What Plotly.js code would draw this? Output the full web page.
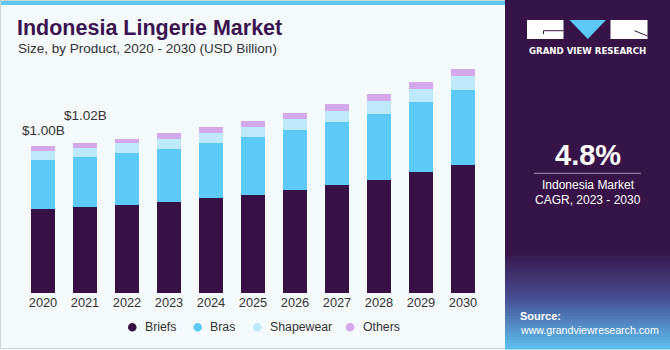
<!DOCTYPE html>
<html>
<head>
<meta charset="utf-8">
<script src="https://cdn.plot.ly/plotly-3.0.1.min.js"></script>
<style>
html,body{margin:0;padding:0;background:#ffffff;}
#chart{width:670px;height:350px;}
</style>
</head>
<body>
<div id="chart"></div>
<script>
// ---- data ----
const years = ['2020','2021','2022','2023','2024','2025','2026','2027','2028','2029','2030'];
const briefs    = [0.574,0.584,0.601,0.621,0.644,0.669,0.698,0.732,0.771,0.821,0.873];
const bras      = [0.334,0.341,0.351,0.361,0.377,0.390,0.409,0.429,0.450,0.477,0.508];
const shapewear = [0.059,0.064,0.066,0.068,0.068,0.070,0.075,0.077,0.084,0.089,0.095];
const others    = [0.034,0.034,0.032,0.036,0.039,0.039,0.041,0.046,0.048,0.048,0.050];
const seriesNames = ['Briefs','Bras','Shapewear','Others'];
const totalLabels = ['$1.00B','$1.02B'];
const titleText = 'Indonesia Lingerie Market';
const subtitleText = 'Size, by Product, 2020 - 2030 (USD Billion)';
const cagrValue = '4.8%';
const cagrLines = ['Indonesia Market', 'CAGR, 2023 - 2030'];
const brandText = 'GRAND VIEW RESEARCH';
const sourceLabel = 'Source:';
const sourceUrl = 'www.grandviewresearch.com';

// ---- styling ----
const colors = ['#371045', '#5bcaf7', '#bde9fb', '#d4a9ec'];
const seriesData = [briefs, bras, shapewear, others];
const L = 22, R = 186, T = 58, B = 57, W = 670, Hh = 350;
const PW = W - L - R, PH = Hh - T - B;
const xp = px => (px - L) / PW;
const yp = py => (Hh - B - py) / PH;

const traces = seriesData.map((vals, i) => ({
  type: 'bar', x: years, y: vals, name: seriesNames[i],
  marker: {color: colors[i], line: {width: 0}},
  hoverinfo: 'skip', showlegend: false
}));

const shapes = [];
const annotations = [];
function rect(x0, y0, x1, y1, fill, extra) {
  shapes.push(Object.assign({type: 'rect', xref: 'paper', yref: 'paper',
    x0: xp(x0), x1: xp(x1), y0: yp(y1), y1: yp(y0), fillcolor: fill,
    line: {width: 0}, layer: 'below'}, extra || {}));
}
function line(x0, y0, x1, y1, color, w) {
  shapes.push({type: 'line', xref: 'paper', yref: 'paper',
    x0: xp(x0), x1: xp(x1), y0: yp(y0), y1: yp(y1), line: {color: color, width: w}, layer: 'above'});
}
function text(t, px, py, size, color, opts) {
  annotations.push(Object.assign({text: t, xref: 'paper', yref: 'paper',
    x: xp(px), y: yp(py), showarrow: false, xanchor: 'left', yanchor: 'middle',
    font: {family: 'Liberation Sans, Arial, sans-serif', size: size, color: color}}, opts || {}));
}

// background + top bar + border
rect(0, 0, 505, 5, '#5cc8f0');
shapes.push({type: 'rect', xref: 'paper', yref: 'paper', x0: xp(0.5), x1: xp(669.5), y0: yp(348.5), y1: yp(0.5),
  line: {color: '#cfd3d6', width: 1}, fillcolor: 'rgba(0,0,0,0)', layer: 'below'});

// right panel
rect(505, 0, 670, 349, '#371447');
// gradient at bottom of panel
const gTop = 250, gBot = 349, steps = 33;
const c0 = [55, 20, 71], cm = [72, 80, 150], c1 = [92, 190, 236];
for (let s = 0; s < steps; s++) {
  const t = s / (steps - 1);
  let c;
  if (t < 0.5) { const u = t / 0.5; c = c0.map((v, k) => Math.round(v + (cm[k] - v) * u)); }
  else { const u = (t - 0.5) / 0.5; c = cm.map((v, k) => Math.round(v + (c1[k] - v) * u)); }
  const y0 = gTop + (gBot - gTop) * s / steps;
  const y1 = gTop + (gBot - gTop) * (s + 1) / steps + 0.5;
  rect(505, y0, 670, y1, 'rgb(' + c.join(',') + ')');
}

// logo
rect(527, 20, 563.5, 39, '#ffffff');
line(543.5, 30.7, 563.5, 30.7, '#371447', 1);
line(543.5, 30.7, 543.5, 34, '#371447', 1);
shapes.push({type: 'path', xref: 'paper', yref: 'paper',
  path: 'M ' + xp(569.5) + ' ' + yp(20) + ' L ' + xp(606) + ' ' + yp(20) + ' L ' + xp(587.8) + ' ' + yp(39) + ' Z',
  fillcolor: '#5bc8f5', line: {width: 0}, layer: 'below'});
rect(610.5, 20, 647.5, 39, '#ffffff');
line(634.5, 30.7, 647.5, 36, '#371447', 1);
text(brandText, 587.7, 51, 9, '#ffffff', {xanchor: 'center', font: {family: 'DejaVu Sans, sans-serif', size: 8.6, color: '#ffffff', weight: 700}});

// CAGR block
text(cagrValue, 588, 155, 29, '#ffffff', {xanchor: 'center', font: {family: 'Liberation Sans, Arial, sans-serif', size: 29, color: '#ffffff', weight: 700}});
line(534, 173.3, 641, 173.3, '#a795b8', 1);
text(cagrLines[0], 588, 185, 12, '#ffffff', {xanchor: 'center'});
text(cagrLines[1], 588, 200, 12, '#ffffff', {xanchor: 'center'});

// source
text(sourceLabel, 518, 316, 11, '#ffffff', {font: {family: 'Liberation Sans, Arial, sans-serif', size: 11, color: '#ffffff', weight: 700}});
text(sourceUrl, 518, 329.5, 10.6, '#ffffff');

// title
text(titleText, 15, 28, 21.5, '#3b1350', {font: {family: 'Liberation Sans, Arial, sans-serif', size: 21.5, color: '#3b1350', weight: 900}});
text(subtitleText, 16, 48.5, 13.5, '#333333');

// legend (manual)
const legX = [132.3, 197.7, 257.3, 350];
seriesNames.forEach((n, i) => {
  const cx = legX[i], cy = 327.3, r = 4.3;
  shapes.push({type: 'circle', xref: 'paper', yref: 'paper',
    x0: xp(cx - r), x1: xp(cx + r), y0: yp(cy + r), y1: yp(cy - r),
    fillcolor: colors[i], line: {width: 0}});
  text(n, cx + 10.5, cy, 12.3, '#333333');
});

// total labels
const totals = years.map((_, i) => briefs[i] + bras[i] + shapewear[i] + others[i]);
const labelShift = [15, 27];
totalLabels.forEach((t, i) => {
  annotations.push({text: t, x: i, y: totals[i], xref: 'x', yref: 'y',
    showarrow: false, xanchor: 'center', yanchor: 'middle', yshift: labelShift[i], xshift: i === 1 ? 0.5 : 0,
    font: {family: 'Liberation Sans, Arial, sans-serif', size: 13.5, color: '#333333'}});
});

const layout = {
  width: W, height: Hh,
  margin: {l: L, r: R, t: T, b: B, pad: 0},
  paper_bgcolor: '#f4f9fc', plot_bgcolor: 'rgba(0,0,0,0)',
  barmode: 'stack', bargap: 0.42,
  showlegend: false,
  xaxis: {type: 'category', range: [-0.5, 10.5], autorange: false, showgrid: false, zeroline: false, showline: false,
    ticks: '', tickfont: {family: 'Liberation Sans, Arial, sans-serif', size: 12.8, color: '#333333'},
    fixedrange: true},
  yaxis: {range: [0, 1.6], autorange: false, visible: false, showgrid: false, zeroline: false, fixedrange: true},
  shapes: shapes, annotations: annotations
};
Plotly.newPlot('chart', traces, layout, {displayModeBar: false, staticPlot: true});
</script>
</body>
</html>
